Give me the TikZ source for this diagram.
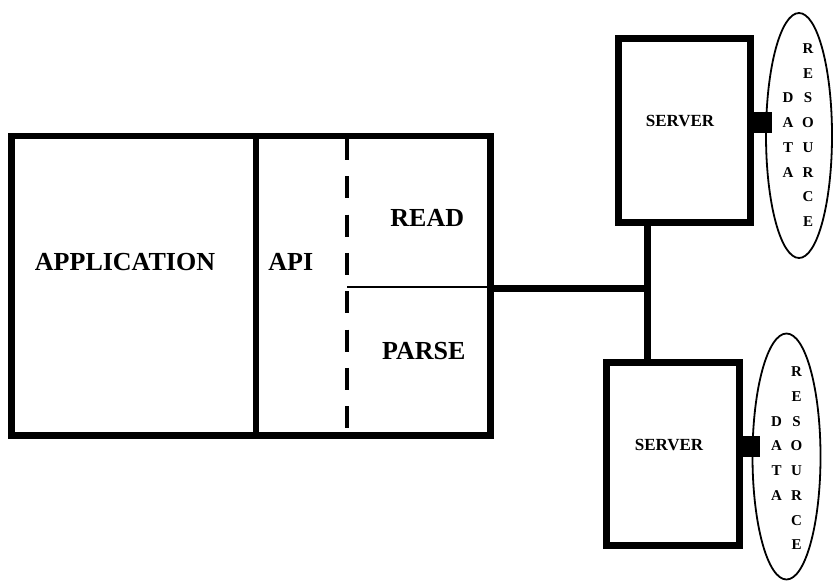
\documentclass[tikz,border=0pt]{standalone}
\usepackage{fontspec}
\setmainfont{Liberation Serif}
\usetikzlibrary{shapes.geometric}
\begin{document}
\begin{tikzpicture}[x=1pt,y=-1pt,
  mainbox/.style={draw, rectangle, line width=6.5pt, inner sep=0pt},
  srvbox/.style={draw, rectangle, line width=7pt, inner sep=0pt,
                 minimum width=132pt, minimum height=184pt},
  store/.style={draw, ellipse, line width=1.8pt, inner sep=0pt},
  bigtxt/.style={font=\fontsize{26}{26}\selectfont\bfseries, inner sep=0pt, anchor=base},
  srvtxt/.style={font=\fontsize{17}{17}\selectfont\bfseries, inner sep=0pt, anchor=base},
  lettxt/.style={font=\fontsize{15}{15}\selectfont\bfseries, inner sep=0pt, anchor=base},
  link/.style={line width=7pt},
  tap/.style={line width=21pt},
]
\useasboundingbox (0,0) rectangle (834,582);

% client side: application | api with read / parse
\node[mainbox, minimum width=244.7pt, minimum height=299.5pt] (app) at (133.65,285.75) {};
\node[mainbox, minimum width=234.7pt, minimum height=299.5pt] (apibox) at (373.35,285.75) {};
\coordinate (dtop) at (347,138);
\coordinate (dbot) at (347,428.5);
\draw[line width=4.5pt, dash pattern=on 22pt off 16.3pt] (dtop) -- (dbot);
\coordinate (split) at (347,286.7);
\draw[line width=2.2pt] (split) -- (apibox.east |- split);

\node[bigtxt] (tapp)   at (125,270)   {APPLICATION};
\node[bigtxt] (tapi)   at (290.8,270) {API};
\node[bigtxt] (tread)  at (427.3,226) {READ};
\node[bigtxt] (tparse) at (423.7,359.3) {PARSE};

% servers
\node[srvbox] (srv1) at (684.2,130) {};
\node[srvbox, minimum width=133pt, minimum height=183.5pt] (srv2) at (672.5,453.75) {};
\node[srvtxt] (tsrv1) at (680,126.7) {SERVER};
\node[srvtxt] (tsrv2) at (669,450) {SERVER};

% network bus
\coordinate (j) at (647,288);
\draw[link] (apibox.east |- j) -- (j);
\draw[link] (srv1.south -| j) -- (srv2.north -| j);

% data resources
\node[store, minimum width=66pt, minimum height=245pt] (res1) at (799,135.5) {};
\node[store, minimum width=68pt, minimum height=246pt] (res2) at (786.5,456.5) {};

\coordinate (t1) at (772,122.5);
\draw[tap] (srv1.east |- t1) -- (t1);
\coordinate (t2) at (760,446.5);
\draw[tap] (srv2.east |- t2) -- (t2);

\foreach \c [count=\k from 0] in {R,E,S,O,U,R,C,E} {
  \node[lettxt] (ra\k) at (808,53.5+24.7*\k) {\c};
  \node[lettxt] (rb\k) at (796.5,376.5+24.75*\k) {\c};
}
\foreach \c [count=\k from 2] in {D,A,T,A} {
  \node[lettxt] (da\k) at (788,53.5+24.7*\k) {\c};
  \node[lettxt] (db\k) at (776.5,376.5+24.75*\k) {\c};
}
\end{tikzpicture}
\end{document}
